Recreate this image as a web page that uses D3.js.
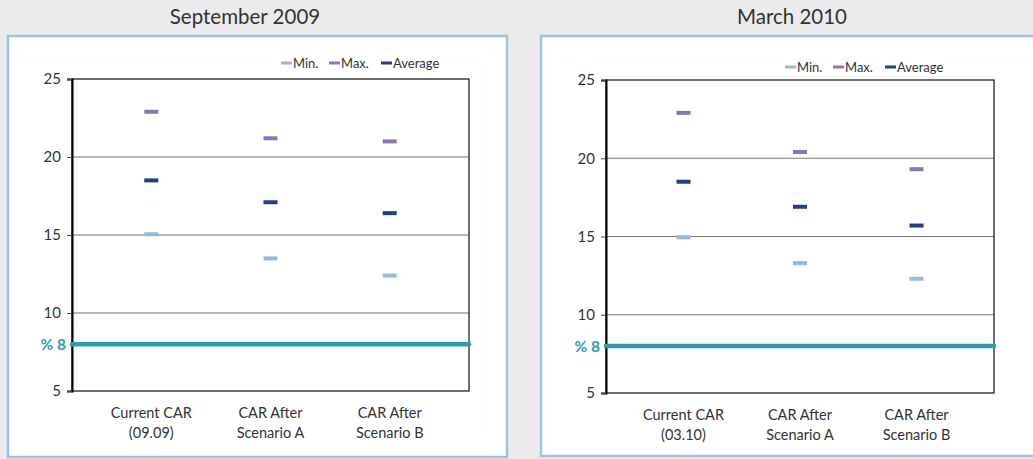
<!DOCTYPE html>
<html>
<head>
<meta charset="utf-8">
<script src="https://cdn.jsdelivr.net/npm/d3@7/dist/d3.min.js"></script>
<style>
  html, body { margin: 0; padding: 0; background: #ebebed; }
  svg { display: block; }
  text { font-family: "Lato", "Open Sans", sans-serif; fill: #333; }
</style>
</head>
<body>
<svg id="chart" width="1033" height="459"></svg>
<script>
// Capital adequacy ratio (CAR) stress-test results, two reporting dates
const yTicks = [5, 10, 15, 20, 25];
const threshold = 8;
const seriesNames = ["Min.", "Max.", "Average"];
const seriesColors = ["#95b9e0", "#8b74b8", "#233f8c"];

const sep2009Categories = [["Current CAR", "(09.09)"], ["CAR After", "Scenario A"], ["CAR After", "Scenario B"]];
const sep2009Min = [15.05, 13.5, 12.4];
const sep2009Max = [22.9, 21.2, 21.0];
const sep2009Avg = [18.5, 17.1, 16.4];

const mar2010Categories = [["Current CAR", "(03.10)"], ["CAR After", "Scenario A"], ["CAR After", "Scenario B"]];
const mar2010Min = [14.95, 13.3, 12.3];
const mar2010Max = [22.9, 20.4, 19.3];
const mar2010Avg = [18.5, 16.9, 15.7];

const panels = [
  { title: "September 2009", cats: sep2009Categories, series: [sep2009Min, sep2009Max, sep2009Avg],
    box: [8, 36, 499, 421], plot: [72, 79, 469, 391], titleX: 245, legendX: 281, legendY: 63 },
  { title: "March 2010", cats: mar2010Categories, series: [mar2010Min, mar2010Max, mar2010Avg],
    box: [541, 36, 500, 420], plot: [606, 80, 994, 393], titleX: 792, legendX: 785, legendY: 67 }
];

const svg = d3.select("#chart");

panels.forEach(p => {
  const g = svg.append("g");
  const [bx, by, bw, bh] = p.box;
  const [x0, y0, x1, y1] = p.plot;

  g.append("text").attr("x", p.titleX).attr("y", 24)
    .attr("text-anchor", "middle").style("font-size", "20.5px").style("fill", "#333")
    .text(p.title);

  g.append("rect").attr("x", bx).attr("y", by).attr("width", bw).attr("height", bh)
    .attr("fill", "#fff").attr("stroke", "#9cc2e6").attr("stroke-width", 2.5);

  const x = d3.scalePoint().domain(d3.range(p.cats.length)).range([x0, x1]).padding(0.665);
  const y = d3.scaleLinear().domain([5, 25]).range([y1, y0]);

  // horizontal gridlines
  g.append("g").selectAll("line").data(yTicks.slice(1, -1)).join("line")
    .attr("x1", x0).attr("x2", x1).attr("y1", d => y(d)).attr("y2", d => y(d))
    .attr("stroke", "#777").attr("stroke-width", 1.2);

  // plot frame
  g.append("rect").attr("x", x0).attr("y", y0).attr("width", x1 - x0).attr("height", y1 - y0)
    .attr("fill", "none").attr("stroke", "#111").attr("stroke-width", 1.2);

  // y axis
  const yAxis = g.append("g").attr("transform", `translate(${x0},0)`)
    .call(d3.axisLeft(y).tickValues(yTicks).tickSize(5).tickPadding(6));
  yAxis.select(".domain").attr("stroke", "#000").attr("stroke-width", 2);
  yAxis.selectAll(".tick line").attr("stroke", "#444");
  yAxis.selectAll(".tick text").style("font-size", "15px").style("fill", "#333")
    .style("font-family", "Lato, sans-serif");

  // 8% threshold line
  g.append("line").attr("x1", x0).attr("x2", x1).attr("y1", y(threshold)).attr("y2", y(threshold))
    .attr("stroke", "#2a9eab").attr("stroke-width", 4.5).attr("stroke-linecap", "round");
  g.append("text").attr("x", x0 - 6).attr("y", y(threshold)).attr("dy", "0.36em")
    .attr("text-anchor", "end").style("font-size", "15.5px").style("font-weight", "bold")
    .style("fill", "#2a9eab").text("% " + threshold);

  // category labels
  const cat = g.append("g").selectAll("text").data(p.cats).join("text")
    .attr("x", (d, i) => x(i)).attr("y", y1 + 27).attr("text-anchor", "middle")
    .style("font-size", "14.5px").style("fill", "#333");
  cat.selectAll("tspan").data(d => d).join("tspan")
    .attr("x", function () { return d3.select(this.parentNode).attr("x"); })
    .attr("dy", (d, i) => i === 0 ? 0 : 20).text(d => d);

  // dash markers for each series
  p.series.forEach((vals, si) => {
    g.append("g").selectAll("rect").data(vals).join("rect")
      .attr("x", (d, i) => x(i) - 7).attr("y", d => y(d) - 2)
      .attr("width", 14).attr("height", 4)
      .attr("fill", seriesColors[si]);
  });

  // legend
  const offsets = [0, 48, 100];
  const leg = g.append("g").selectAll("g").data(seriesNames).join("g")
    .attr("transform", (d, i) => `translate(${p.legendX + offsets[i]},${p.legendY})`);
  leg.append("rect").attr("x", 0).attr("y", -1.5).attr("width", 11).attr("height", 3)
    .attr("fill", (d, i) => seriesColors[i]);
  leg.append("text").attr("x", 12).attr("dy", "0.35em").style("font-size", "13px")
    .style("fill", "#333").text(d => d);
});
</script>
</body>
</html>
